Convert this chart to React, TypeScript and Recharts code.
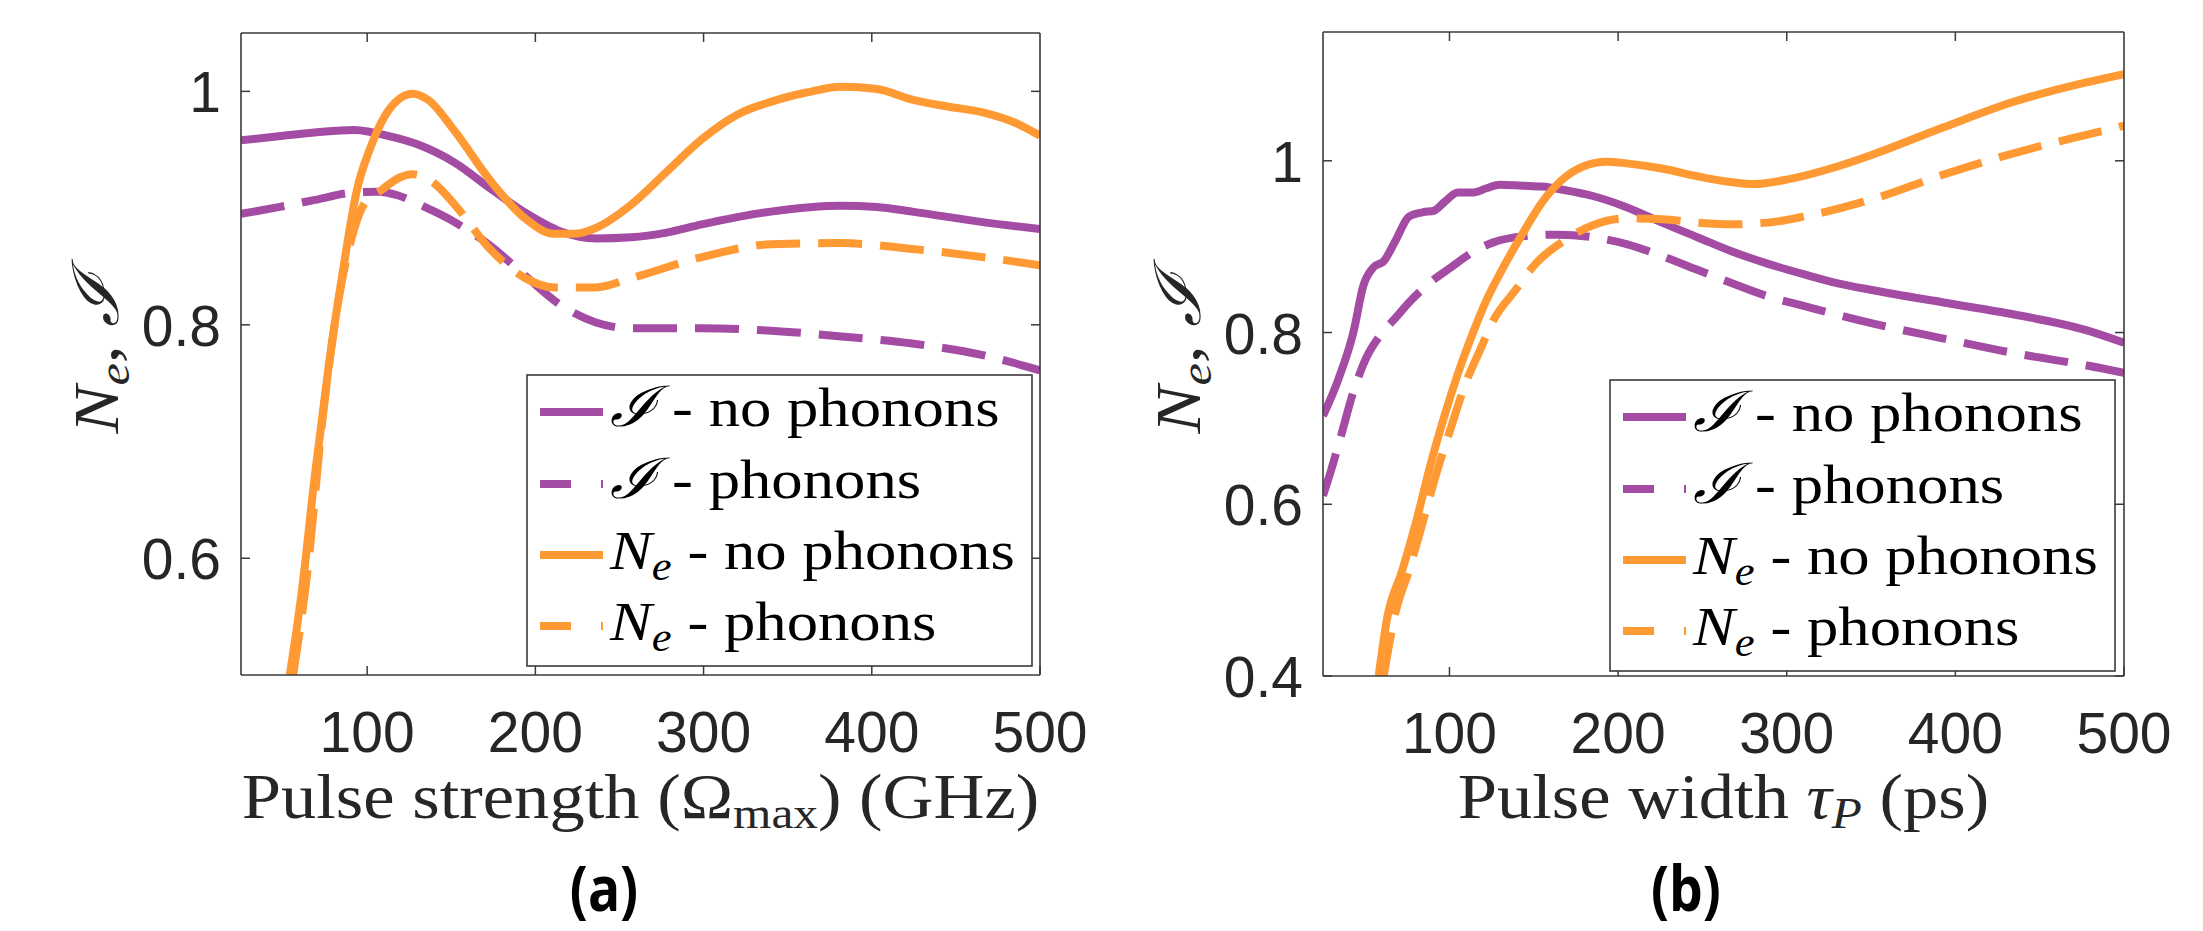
import React from 'react';
import { LineChart, Line, XAxis, YAxis } from 'recharts';

const PURPLE = '#A44CA4';
const ORANGE = '#FF9933';
const AXIS = '#3a3a3a';
const TEXT = '#262626';
const SERIF = '"Liberation Serif", "DejaVu Serif", serif';
const SANS = '"Liberation Sans", Arial, sans-serif';

// ---- panel (a): pulse strength Omega_max (GHz)
const strengthINoPhX = [25, 50, 70, 92, 115, 131, 152, 173, 194, 215, 236, 257, 278, 299, 340, 382, 403, 424, 466, 500];
const strengthINoPh = [0.958, 0.962, 0.965, 0.967, 0.961, 0.954, 0.939, 0.917, 0.896, 0.88, 0.874, 0.875, 0.879, 0.886, 0.897, 0.902, 0.901, 0.897, 0.888, 0.882];

const strengthIPhX = [25, 48, 69, 90, 106, 118, 131, 152, 173, 194, 215, 236, 257, 299, 340, 382, 424, 466, 500];
const strengthIPh = [0.895, 0.901, 0.907, 0.913, 0.914, 0.911, 0.903, 0.888, 0.868, 0.842, 0.817, 0.802, 0.797, 0.797, 0.795, 0.79, 0.784, 0.774, 0.761];

const strengthNeNoPhX = [54, 61, 69, 77, 86, 94, 102, 109, 117, 127, 136, 152, 173, 194, 211, 223, 236, 257, 278, 299, 320, 340, 361, 382, 403, 424, 445, 466, 487, 500];
const strengthNeNoPh = [0.5, 0.57, 0.672, 0.763, 0.85, 0.916, 0.952, 0.975, 0.991, 0.998, 0.993, 0.966, 0.924, 0.891, 0.878, 0.878, 0.883, 0.903, 0.931, 0.959, 0.98, 0.991, 0.999, 1.004, 1.002, 0.993, 0.987, 0.982, 0.972, 0.962];

const strengthNePhX = [56, 65, 73, 81, 90, 98, 109, 119, 127, 140, 152, 173, 194, 211, 236, 257, 299, 340, 382, 424, 466, 500];
const strengthNePh = [0.5, 0.595, 0.713, 0.804, 0.87, 0.903, 0.916, 0.926, 0.929, 0.921, 0.903, 0.865, 0.84, 0.832, 0.832, 0.84, 0.858, 0.869, 0.87, 0.865, 0.858, 0.851];

// ---- panel (b): pulse width tau_P (ps)
const widthINoPhX = [25, 34, 43, 49, 55, 61, 68, 76, 84, 91, 97, 105, 114, 122, 130, 143, 155, 168, 185, 205, 226, 247, 268, 289, 310, 331, 352, 393, 435, 477, 500];
const widthINoPh = [0.703, 0.745, 0.8, 0.855, 0.876, 0.883, 0.907, 0.935, 0.94, 0.942, 0.952, 0.963, 0.963, 0.968, 0.972, 0.971, 0.97, 0.966, 0.959, 0.946, 0.928, 0.911, 0.894, 0.88, 0.868, 0.857, 0.849, 0.835, 0.821, 0.803, 0.788];

const widthIPhX = [25, 30, 36, 43, 51, 59, 68, 76, 89, 101, 114, 126, 143, 164, 185, 205, 226, 247, 268, 289, 310, 352, 393, 435, 477, 500];
const widthIPh = [0.61, 0.641, 0.682, 0.731, 0.772, 0.797, 0.817, 0.835, 0.859, 0.876, 0.894, 0.905, 0.912, 0.914, 0.911, 0.903, 0.889, 0.873, 0.857, 0.842, 0.831, 0.81, 0.793, 0.776, 0.762, 0.753];

const widthNeNoPhX = [58, 63, 72, 80, 89, 97, 105, 114, 122, 130, 143, 155, 168, 180, 193, 205, 226, 247, 268, 281, 302, 331, 352, 393, 435, 477, 500];
const widthNeNoPh = [0.4, 0.467, 0.523, 0.578, 0.648, 0.703, 0.752, 0.8, 0.838, 0.869, 0.914, 0.952, 0.98, 0.994, 0.999, 0.997, 0.991, 0.982, 0.975, 0.973, 0.979, 0.994, 1.008, 1.039, 1.069, 1.091, 1.101];

const widthNePhX = [61, 68, 76, 84, 93, 101, 109, 118, 126, 139, 151, 168, 185, 205, 226, 247, 268, 289, 310, 352, 393, 435, 477, 500];
const widthNePh = [0.4, 0.474, 0.523, 0.578, 0.641, 0.69, 0.738, 0.779, 0.814, 0.849, 0.88, 0.907, 0.925, 0.933, 0.932, 0.928, 0.926, 0.928, 0.935, 0.956, 0.984, 1.009, 1.03, 1.041];

const xTicks = [100, 200, 300, 400, 500];
const yTicksA = [0.6, 0.8, 1];
const yTicksB = [0.4, 0.6, 0.8, 1];

const pts = (xs: number[], ys: number[]) => xs.map((x, i) => ({ x, y: ys[i] }));

const DASH = '44 18';
const LW = 8;
const TICK_LEN = 9;

const BottomTick = ({ x, y, payload }: any) => (
  <g>
    <line x1={x} x2={x} y1={y} y2={y - TICK_LEN} stroke={AXIS} strokeWidth={1.5} />
    <text x={x} y={y + 77} textAnchor="middle" fontFamily={SANS} fontSize={57} fill={TEXT}>{payload.value}</text>
  </g>
);
const TopTick = ({ x, y }: any) => (
  <line x1={x} x2={x} y1={y} y2={y + TICK_LEN} stroke={AXIS} strokeWidth={1.5} />
);
const LeftTick = ({ x, y, payload }: any) => (
  <g>
    <line x1={x} x2={x + TICK_LEN} y1={y} y2={y} stroke={AXIS} strokeWidth={1.5} />
    <text x={x - 20} y={y + 21} textAnchor="end" fontFamily={SANS} fontSize={57} fill={TEXT}>{String(payload.value)}</text>
  </g>
);
const RightTick = ({ x, y }: any) => (
  <line x1={x} x2={x - TICK_LEN} y1={y} y2={y} stroke={AXIS} strokeWidth={1.5} />
);

type Series = { data: { x: number; y: number }[]; color: string; dashed: boolean };

function Panel({ width, margin, yDomain, yTicks, series }: { width: number; margin: any; yDomain: [number, number]; yTicks: number[]; series: Series[] }) {
  const axisLine = { stroke: AXIS, strokeWidth: 1.6 };
  return (
    <LineChart width={width} height={931} margin={margin}>
      <XAxis xAxisId="b" dataKey="x" type="number" domain={[25, 500]} ticks={xTicks} interval={0} allowDataOverflow height={1} tickSize={0} tickMargin={0} axisLine={axisLine} tickLine={false} tick={<BottomTick />} />
      <XAxis xAxisId="t" orientation="top" dataKey="x" type="number" domain={[25, 500]} ticks={xTicks.slice(0, 4)} interval={0} allowDataOverflow height={1} tickSize={0} tickMargin={0} axisLine={axisLine} tickLine={false} tick={<TopTick />} />
      <YAxis yAxisId="l" type="number" domain={yDomain} ticks={yTicks} interval={0} allowDataOverflow width={1} tickSize={0} tickMargin={0} axisLine={axisLine} tickLine={false} tick={<LeftTick />} />
      <YAxis yAxisId="r" orientation="right" type="number" domain={yDomain} ticks={yTicks} interval={0} allowDataOverflow width={1} tickSize={0} tickMargin={0} axisLine={axisLine} tickLine={false} tick={<RightTick />} />
      {series.map((s, i) => (
        <Line key={i} xAxisId="b" yAxisId="l" data={s.data} dataKey="y" type="monotone" stroke={s.color} strokeWidth={LW} strokeDasharray={s.dashed ? DASH : undefined} dot={false} activeDot={false} isAnimationActive={false} />
      ))}
    </LineChart>
  );
}

const legendRows = [
  { color: PURPLE, dashed: false, sym: 'I', rest: ' - no phonons' },
  { color: PURPLE, dashed: true, sym: 'I', rest: ' - phonons' },
  { color: ORANGE, dashed: false, sym: 'N', rest: ' - no phonons' },
  { color: ORANGE, dashed: true, sym: 'N', rest: ' - phonons' },
];
const rowOffsets = [37, 109, 180, 251];

function LegendBox({ left, top }: { left: number; top: number }) {
  return (
    <g>
      <rect x={left} y={top} width={505} height={291} fill="#fff" stroke={AXIS} strokeWidth={1.6} />
      {legendRows.map((r, i) => {
        const cy = top + rowOffsets[i];
        return (
          <g key={i}>
            <line x1={left + 13} x2={left + 76} y1={cy} y2={cy} stroke={r.color} strokeWidth={LW} strokeDasharray={r.dashed ? '31 30' : undefined} />
            <g transform={`translate(${left + 83}, ${cy + 14}) scale(1.12, 1)`}>
              <text x={0} y={0} fontFamily={SERIF} fontSize={56} fill="#000">
                {r.sym === 'I' ? (
                  <tspan fontStyle="italic">ℐ</tspan>
                ) : (
                  <>
                    <tspan fontStyle="italic">N</tspan>
                    <tspan fontStyle="italic" fontSize={40} dy={11}>e</tspan>
                  </>
                )}
                <tspan dy={r.sym === 'I' ? 0 : -11}>{r.rest}</tspan>
              </text>
            </g>
          </g>
        );
      })}
    </g>
  );
}

function YLabel({ x, y }: { x: number; y: number }) {
  return (
    <g transform={`translate(${x}, ${y}) rotate(-90) scale(1.12, 1)`}>
      <text x={0} y={0} textAnchor="middle" fontFamily={SERIF} fontSize={64} fill={TEXT}>
        <tspan fontStyle="italic">N</tspan>
        <tspan fontStyle="italic" fontSize={45} dy={11}>e</tspan>
        <tspan dy={-11}>, </tspan>
        <tspan fontStyle="italic">ℐ</tspan>
      </text>
    </g>
  );
}

export default function App() {
  const seriesA: Series[] = [
    { data: pts(strengthINoPhX, strengthINoPh), color: PURPLE, dashed: false },
    { data: pts(strengthIPhX, strengthIPh), color: PURPLE, dashed: true },
    { data: pts(strengthNeNoPhX, strengthNeNoPh), color: ORANGE, dashed: false },
    { data: pts(strengthNePhX, strengthNePh), color: ORANGE, dashed: true },
  ];
  const seriesB: Series[] = [
    { data: pts(widthINoPhX, widthINoPh), color: PURPLE, dashed: false },
    { data: pts(widthIPhX, widthIPh), color: PURPLE, dashed: true },
    { data: pts(widthNeNoPhX, widthNeNoPh), color: ORANGE, dashed: false },
    { data: pts(widthNePhX, widthNePh), color: ORANGE, dashed: true },
  ];

  return (
    <div style={{ position: 'relative', width: 2203, height: 931, background: '#fff', overflow: 'hidden' }}>
      <style>{'body{margin:0}'}</style>
      <div style={{ position: 'absolute', left: 0, top: 0 }}>
        <Panel width={1100} margin={{ top: 32, left: 240, right: 59, bottom: 255 }} yDomain={[0.5, 1.05]} yTicks={yTicksA} series={seriesA} />
      </div>
      <div style={{ position: 'absolute', left: 1100, top: 0 }}>
        <Panel width={1103} margin={{ top: 31, left: 222, right: 78, bottom: 254 }} yDomain={[0.4, 1.15]} yTicks={yTicksB} series={seriesB} />
      </div>
      <svg width={2203} height={931} style={{ position: 'absolute', left: 0, top: 0, pointerEvents: 'none' }}>
        <LegendBox left={527} top={375} />
        <LegendBox left={1610} top={380} />
        <YLabel x={118} y={354} />
        <YLabel x={1200} y={354} />
        <g transform="translate(640.5, 818) scale(1.12, 1)">
          <text x={0} y={0} textAnchor="middle" fontFamily={SERIF} fontSize={63} fill={TEXT}>
            Pulse strength (Ω<tspan fontSize={44} dy={10}>max</tspan><tspan dy={-10}>) (GHz)</tspan>
          </text>
        </g>
        <g transform="translate(1723.5, 818) scale(1.12, 1)">
          <text x={0} y={0} textAnchor="middle" fontFamily={SERIF} fontSize={63} fill={TEXT}>
            Pulse width <tspan fontStyle="italic">τ</tspan><tspan fontStyle="italic" fontSize={44} dy={10}>P</tspan><tspan dy={-10}> (ps)</tspan>
          </text>
        </g>
        <g transform="translate(604, 911) scale(0.92, 1.08)">
          <text x={0} y={0} textAnchor="middle" fontFamily='"Open Sans", sans-serif' fontWeight="bold" fontSize={58} fill="#000">(a)</text>
        </g>
        <g transform="translate(1686, 911) scale(0.92, 1.08)">
          <text x={0} y={0} textAnchor="middle" fontFamily='"Open Sans", sans-serif' fontWeight="bold" fontSize={58} fill="#000">(b)</text>
        </g>
      </svg>
    </div>
  );
}
